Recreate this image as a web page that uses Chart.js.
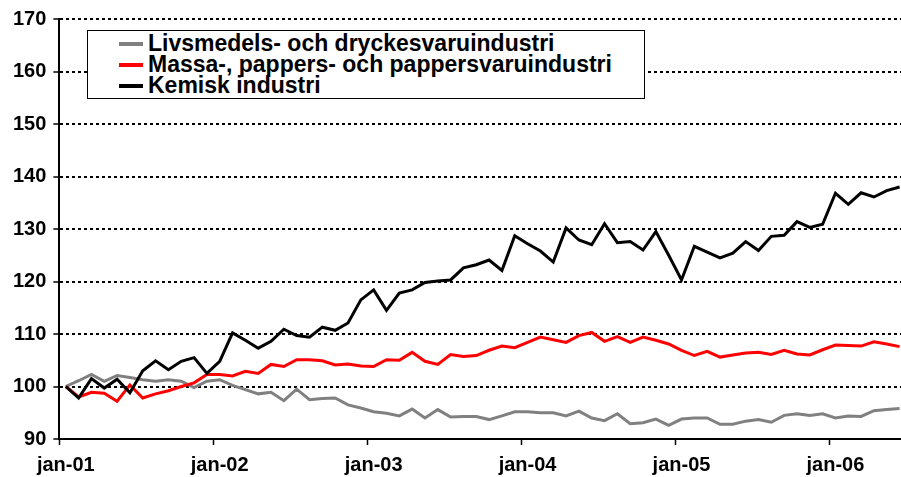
<!DOCTYPE html>
<html>
<head>
<meta charset="utf-8">
<script src="https://cdn.jsdelivr.net/npm/chart.js@4/dist/chart.umd.min.js"></script>
<style>
  html, body { margin: 0; padding: 0; background: #fff; overflow: hidden; }
  #wrap { position: relative; width: 908px; height: 477px; }
  #legend {
    position: absolute; left: 87px; top: 30px; width: 556px; height: 67px;
    border: 1px solid #000; background: #fff;
    font: bold 23px Arial, "Liberation Sans", sans-serif; color: #000;
  }
  .row { position: absolute; left: 0; height: 21px; line-height: 21px; white-space: nowrap; }
  .swatch { position: absolute; left: 31px; top: 9px; width: 24px; height: 4px; }
  .txt { position: absolute; left: 60px; top: 0; }
</style>
</head>
<body>
<div id="wrap">
  <canvas id="chart"></canvas>
  <div id="legend"></div>
</div>
<script>
// Months and years for the category axis
const monthNames = ['jan', 'feb', 'mar', 'apr', 'maj', 'jun', 'jul', 'aug', 'sep', 'okt', 'nov', 'dec'];
const yearNames = ['01', '02', '03', '04', '05', '06'];
const monthCount = 66; // jan-01 .. jun-06

// Index series (jan-01 = 100)
const livsmedel = [
  100, 101.1, 102.3, 101.0, 102.1, 101.7, 101.3, 101.0, 101.3, 101.0, 99.8, 101.0,
  101.3, 100.2, 99.4, 98.6, 98.9, 97.3, 99.5, 97.5, 97.7, 97.8, 96.5, 95.9,
  95.2, 94.9, 94.4, 95.7, 94.0, 95.6, 94.2, 94.3, 94.3, 93.7, 94.4, 95.2,
  95.2, 95.0, 95.0, 94.4, 95.3, 94.0, 93.5, 94.8, 92.9, 93.1, 93.8, 92.6,
  93.8, 94.0, 94.0, 92.8, 92.8, 93.4, 93.7, 93.2, 94.5, 94.8, 94.5, 94.8,
  94.0, 94.4, 94.3, 95.4, 95.6, 95.8
];
const massa = [
  100, 98.0, 98.9, 98.7, 97.2, 100.3, 97.8, 98.6, 99.2, 100.0, 100.7, 102.3,
  102.3, 102.0, 102.9, 102.5, 104.2, 103.8, 105.1, 105.1, 104.9, 104.1, 104.3, 103.9,
  103.8, 105.1, 105.0, 106.5, 104.8, 104.2, 106.1, 105.7, 105.9, 106.9, 107.7, 107.4,
  108.4, 109.4, 108.9, 108.4, 109.7, 110.3, 108.6, 109.5, 108.4, 109.4, 108.8, 108.1,
  106.9, 105.9, 106.7, 105.6, 106.0, 106.4, 106.5, 106.1, 106.9, 106.2, 106.0, 107.0,
  107.9, 107.8, 107.7, 108.5, 108.1, 107.6
];
const kemisk = [
  100, 97.8, 101.5, 99.7, 101.4, 98.8, 103.0, 104.9, 103.2, 104.8, 105.5, 102.5,
  104.8, 110.2, 108.8, 107.3, 108.6, 110.9, 109.7, 109.4, 111.3, 110.7, 112.1, 116.5,
  118.4, 114.5, 117.8, 118.4, 119.8, 120.1, 120.3, 122.6, 123.2, 124.1, 122.1, 128.7,
  127.2, 125.8, 123.7, 130.2, 127.9, 127.0, 131.0, 127.4, 127.6, 126.0, 129.5, 125.0,
  120.3, 126.7, 125.6, 124.5, 125.4, 127.6, 125.9, 128.6, 128.8, 131.4, 130.3, 130.9,
  136.8, 134.7, 136.9, 136.1, 137.3, 138.0
];

const seriesNames = ['Livsmedels- och dryckesvaruindustri', 'Massa-, pappers- och pappersvaruindustri', 'Kemisk industri'];
const seriesColors = ['#808080', '#ff0000', '#000000'];

const labels = [];
yearNames.forEach(y => monthNames.forEach(m => labels.push(m + '-' + y)));
labels.length = monthCount;

const font = { family: 'Arial, "Liberation Sans", sans-serif', size: 20, weight: 'bold' };

// Legend inside the plot, like the original
const legendEl = document.getElementById('legend');
seriesNames.forEach((name, i) => {
  const row = document.createElement('div');
  row.className = 'row';
  row.style.top = (2 + i * 21) + 'px';
  row.innerHTML = `<span class="swatch" style="background:${seriesColors[i]}"></span><span class="txt">${name}</span>`;
  legendEl.appendChild(row);
});

const seriesData = [livsmedel, massa, kemisk];
const ctx = document.getElementById('chart').getContext('2d');
const chart = new Chart(ctx, {
  type: 'line',
  data: {
    labels: labels,
    datasets: seriesData.map((d, i) => ({
      label: seriesNames[i],
      data: d,
      borderColor: seriesColors[i],
      borderWidth: 3,
      tension: 0,
      pointRadius: 0,
      fill: false,
      order: 3 - i
    }))
  },
  options: {
    responsive: true,
    maintainAspectRatio: false,
    animation: false,
    layout: { padding: { left: 6, top: 6, right: 2, bottom: -8 } },
    plugins: { legend: { display: false }, tooltip: { enabled: false } },
    scales: {
      x: {
        offset: true,
        grid: {
          offset: true,
          drawOnChartArea: false,
          drawTicks: true,
          tickLength: 6,
          tickWidth: 1.5,
          tickColor: c => (c.index % 12 === 0 ? '#000' : 'rgba(0,0,0,0)')
        },
        border: { display: true, color: '#000', width: 2 },
        ticks: {
          autoSkip: false,
          maxRotation: 0,
          padding: 8,
          color: '#000',
          font: font,
          callback: (v, i) => (i % 12 === 0 ? labels[i] : '')
        }
      },
      y: {
        min: 90,
        max: 170,
        ticks: { stepSize: 10, padding: 7, color: '#000', font: font },
        grid: {
          color: c => (c.tick && c.tick.value === 90 ? 'rgba(0,0,0,0)' : '#000'),
          lineWidth: 2,
          tickLength: 6,
          tickColor: '#000',
          tickWidth: 1.5
        },
        border: { display: true, color: '#000', width: 2, dash: [3, 3] }
      }
    }
  }
});
</script>
</body>
</html>
